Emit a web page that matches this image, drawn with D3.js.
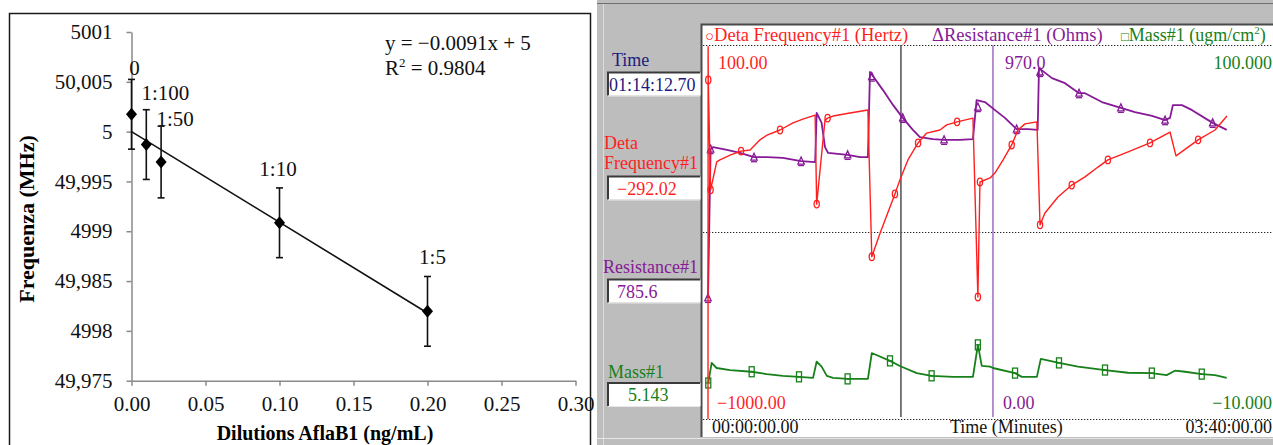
<!DOCTYPE html>
<html>
<head>
<meta charset="utf-8">
<script src="https://cdn.jsdelivr.net/npm/d3@7"></script>
<style>
  html, body { margin: 0; padding: 0; background: #fff; }
  svg { display: block; font-family: "Liberation Serif", "Times New Roman", serif; }
</style>
</head>
<body>
<svg id="chart" width="1273" height="445"></svg>
<script>
// ============================================================
//  Left: frequency vs AflaB1 dilution  |  Right: QCM monitor trace
// ============================================================

// --- Left panel data ---
const dilutionLabels = ['0', '1:100', '1:50', '1:10', '1:5'];
const concentrations = [0, 0.01, 0.02, 0.10, 0.20];
const frequencyMHz   = [5000.174, 4999.87, 4999.695, 4999.085, 4998.196];
const frequencyErr   = [0.35, 0.35, 0.36, 0.35, 0.35];
const yTickValues = [4997.5, 4998, 4998.5, 4999, 4999.5, 5000, 5000.5, 5001];
const yTickLabels = ['49,975', '4998', '49,985', '4999', '49,995', '5', '50,005', '5001'];
const xTickValues = [0, 0.05, 0.10, 0.15, 0.20, 0.25, 0.30];
const fitSlope = -9.1;         // MHz per ng/mL  (y = -0.0091x + 5 in GHz)
const fitIntercept = 5000;
const fitRange = [0, 0.20];

// --- Right panel data: [minutes, value] ---
const freqTrace = [
  [0,-1000],[0.05,95],[0.1,-3],[1.0,-326],[3.35,-244],[4.6,-238],[8.5,-224],[12.7,-212],
  [16.2,-209],[20,-179],[22.7,-165],[27.7,-150],[32.7,-129],[36.5,-118],[41.2,-106],
  [41.8,-368],[45,-121],[46,-115],[48.1,-109],[54.6,-100],[61.5,-91],[63,-523],[66.2,-453],
  [71.9,-338],[73.8,-297],[76.9,-238],[80.8,-188],[84.1,-159],[89.2,-150],[91.8,-135],
  [95.8,-126],[101.9,-115],[103.8,-641],[104.6,-303],[108.5,-291],[110.4,-276],[113.5,-238],
  [116.8,-194],[119.2,-150],[121.9,-132],[126.5,-126],[127.7,-429],[129.6,-394],[134.6,-347],
  [139.9,-312],[145,-288],[150,-259],[153.8,-238],[160.4,-218],[170,-188],[177.7,-156],
  [180,-226],[188.5,-179],[195,-150],[199.6,-109]
];
const freqMarkers = [
  [0.1,-3],[1.0,-326],[12.7,-212],[27.7,-150],[41.8,-368],[46,-115],[63,-523],[71.9,-338],
  [80.8,-188],[95.8,-126],[103.8,-641],[104.6,-303],[116.8,-194],[127.7,-429],[139.9,-312],
  [153.8,-238],[170,-188],[188.5,-179]
];
const resTrace = [
  [0,314],[1.0,700],[1.9,705],[7.3,698],[12.3,690],[17.7,679],[22.7,679],[28.8,677],
  [35.8,669],[41.2,666],[41.8,794],[43.7,768],[45,705],[46.2,690],[53.7,685],[58.5,679],
  [61.5,679],[62.3,900],[67.3,853],[71.2,814],[74.9,781],[78.8,750],[81.5,731],[86.5,726],
  [90.8,724],[96.9,724],[101.9,726],[103.3,827],[106.5,822],[110.4,801],[114.2,781],
  [118.7,752],[123.1,752],[126.8,750],[127.3,910],[132.3,884],[137.3,871],[142.7,845],
  [145,845],[151.5,822],[158.8,807],[164.2,796],[170.8,786],[175.8,775],[177.7,781],
  [178.8,814],[182.3,814],[186.2,801],[194.1,768],[199.5,750]
];
const resMarkers = [
  [0,314],[1.0,700],[17.7,679],[35.8,669],[53.7,685],[63,888],[74.9,781],[90.8,724],
  [103.8,809],[118.7,752],[127.7,900],[142.7,845],[158.8,807],[175.8,775],[194.1,768]
];
const massTrace = [
  [0.1,0.6],[1.4,6.5],[3.3,5.0],[8.5,4.4],[16.8,3.9],[22.6,3.2],[28.8,2.7],[35,2.4],
  [40.4,2.1],[41.8,6.9],[43.7,5.4],[45.7,2.7],[48.1,2.1],[53.7,1.8],[61.5,1.8],[63,9.4],
  [70,7.1],[73.8,5.6],[80.3,3.5],[86,2.7],[94.2,2.4],[101.9,2.4],[103.8,11.8],[105.3,5.6],
  [108.5,5.4],[109.6,5.0],[118.1,3.5],[120.7,2.4],[126.5,2.4],[128,7.7],[135,6.5],
  [142.3,5.4],[152.7,4.4],[161.5,3.6],[170.7,3.5],[176.4,2.9],[179.6,4.2],[183.5,3.9],
  [189.9,3.2],[195,2.9],[199.5,2.1]
];
const massMarkers = [
  [0.1,0.6],[16.8,3.9],[35,2.4],[53.7,1.8],[70,7.1],[86,2.7],[103.8,11.8],[118.1,3.5],
  [135,6.5],[152.7,4.4],[170.7,3.5],[189.9,3.2]
];
const cursorTimes = [74.2, 109.6];
const timeDomain = [0, 220];
const freqDomain = [-1000, 100];
const resDomain = [0, 970];
const massDomain = [-10, 100];
const readoutNames = ['Time', 'Deta|Frequency#1', 'Resistance#1', 'Mass#1'];
const readoutValues = ['01:14:12.70', '\u2212292.02', '785.6', '5.143'];

// --- Colours ---
const RED = '#ff1f1f', PURPLE = '#861a96', GREEN = '#17801a', NAVY = '#1b1b7e';

const svg = d3.select('#chart');

// ================= Left panel =================
(() => {
  const g = svg.append('g');
  g.append('rect').attr('x', 9.5).attr('y', 13.5).attr('width', 581).attr('height', 450)
    .attr('fill', '#fff').attr('stroke', '#1a1a1a').attr('stroke-width', 1.5);

  const x = d3.scaleLinear().domain([0, 0.30]).range([131.5, 575.5]);
  const y = d3.scaleLinear().domain([4997.5, 5001]).range([380.7, 32]);

  const yAxis = g.append('g').attr('transform', `translate(${x(0)},0)`)
    .call(d3.axisLeft(y).tickValues(yTickValues).tickSize(5).tickSizeOuter(0).tickPadding(14)
      .tickFormat((d, i) => yTickLabels[i]));
  const xAxis = g.append('g').attr('transform', `translate(0,${y(4997.5)})`)
    .call(d3.axisBottom(x).tickValues(xTickValues).tickSize(5).tickSizeOuter(0).tickPadding(10)
      .tickFormat(d3.format('.2f')));
  [yAxis, xAxis].forEach(a => {
    a.selectAll('path, line').attr('stroke', '#8a8a8a').attr('stroke-width', 1.5);
    a.selectAll('text').attr('fill', '#111').style('font-size', '21px')
      .style('font-family', '"Liberation Serif", serif');
  });

  // regression line
  g.append('line')
    .attr('x1', x(fitRange[0])).attr('y1', y(fitIntercept + fitSlope * fitRange[0]))
    .attr('x2', x(fitRange[1])).attr('y2', y(fitIntercept + fitSlope * fitRange[1]))
    .attr('stroke', '#111').attr('stroke-width', 1.6);

  const pts = concentrations.map((c, i) => ({ c, f: frequencyMHz[i], e: frequencyErr[i], lab: dilutionLabels[i] }));

  // error bars
  const eb = g.append('g').attr('stroke', '#111').attr('stroke-width', 1.6);
  pts.forEach(p => {
    eb.append('line').attr('x1', x(p.c)).attr('x2', x(p.c)).attr('y1', y(p.f - p.e)).attr('y2', y(p.f + p.e));
    [p.f - p.e, p.f + p.e].forEach(v =>
      eb.append('line').attr('x1', x(p.c) - 3.5).attr('x2', x(p.c) + 3.5).attr('y1', y(v)).attr('y2', y(v)));
  });

  // diamonds
  g.selectAll('path.pt').data(pts).join('path').attr('class', 'pt')
    .attr('d', 'M0,-6.5L5.5,0L0,6.5L-5.5,0Z')
    .attr('transform', d => `translate(${x(d.c)},${y(d.f)})`)
    .attr('fill', '#000');

  // point labels (nudged above the error bar tops)
  const nudges = [[3, -11], [19, -17], [14, -7], [-1.5, -19], [5, -19]];
  g.selectAll('text.pl').data(pts).join('text').attr('class', 'pl')
    .attr('x', (d, i) => x(d.c) + nudges[i][0])
    .attr('y', (d, i) => y(d.f + d.e) + nudges[i][1] + 7)
    .attr('text-anchor', 'middle').style('font-size', '21px').attr('fill', '#111')
    .text(d => d.lab);

  // equation
  g.append('text').attr('x', 385).attr('y', 50).style('font-size', '21px').attr('fill', '#111')
    .text('y = \u22120.0091x + 5');
  const r2 = g.append('text').attr('x', 385).attr('y', 75).style('font-size', '21px').attr('fill', '#111');
  r2.append('tspan').text('R');
  r2.append('tspan').attr('dy', -8).style('font-size', '13px').text('2');
  r2.append('tspan').attr('dy', 8).text(' = 0.9804');

  // axis titles
  g.append('text').attr('transform', 'translate(34,219) rotate(-90)')
    .attr('text-anchor', 'middle').style('font-size', '22px').style('font-weight', 'bold')
    .text('Frequenza (MHz)');
  g.append('text').attr('x', 325).attr('y', 440)
    .attr('text-anchor', 'middle').style('font-size', '20px').style('font-weight', 'bold')
    .text('Dilutions AflaB1 (ng/mL)');
})();

// ================= Right panel =================
(() => {
  const g = svg.append('g');
  g.append('rect').attr('x', 597).attr('y', 0).attr('width', 676).attr('height', 445).attr('fill', '#bdbdbd');
  g.append('line').attr('x1', 597).attr('x2', 1273).attr('y1', 3.5).attr('y2', 3.5).attr('stroke', '#6e6e6e');
  g.append('line').attr('x1', 603.5).attr('x2', 603.5).attr('y1', 4).attr('y2', 445).attr('stroke', '#dcdcdc');
  g.append('line').attr('x1', 597).attr('x2', 1273).attr('y1', 438.5).attr('y2', 438.5).attr('stroke', '#e6e6e6');

  // plot frame
  g.append('rect').attr('x', 701).attr('y', 24).attr('width', 580).attr('height', 413).attr('fill', '#fff');
  g.append('path').attr('d', 'M701.5,437V24.5H1273').attr('fill', 'none').attr('stroke', '#4a4a4a').attr('stroke-width', 2);

  const x = d3.scaleLinear().domain(timeDomain).range([708, 1280]);
  const top = 45, bottom = 419;
  const yF = d3.scaleLinear().domain(freqDomain).range([bottom, top]);
  const yR = d3.scaleLinear().domain(resDomain).range([bottom, top]);
  const yM = d3.scaleLinear().domain(massDomain).range([bottom, top]);

  // dotted grid lines
  [top, (top + bottom) / 2, bottom].forEach(v =>
    g.append('line').attr('x1', 703).attr('x2', 1273).attr('y1', v + 0.5).attr('y2', v + 0.5)
      .attr('stroke', '#222').attr('stroke-width', 1.2).attr('stroke-dasharray', '1.3,1.7'));

  // cursors
  g.append('line').attr('x1', x(cursorTimes[0])).attr('x2', x(cursorTimes[0]))
    .attr('y1', top).attr('y2', bottom - 2).attr('stroke', '#5a5a5a').attr('stroke-width', 1.6);
  g.append('line').attr('x1', x(cursorTimes[1])).attr('x2', x(cursorTimes[1]))
    .attr('y1', top).attr('y2', bottom - 2).attr('stroke', '#a678c8').attr('stroke-width', 1.6);

  g.append('clipPath').attr('id', 'plotClip').append('rect')
    .attr('x', 703).attr('y', top - 1).attr('width', 575).attr('height', bottom - top + 2);
  const plot = g.append('g').attr('clip-path', 'url(#plotClip)');

  const series = [
    { data: massTrace, marks: massMarkers, y: yM, color: GREEN, w: 1.8, shape: 'square' },
    { data: resTrace, marks: resMarkers, y: yR, color: PURPLE, w: 1.8, shape: 'triangle' },
    { data: freqTrace, marks: freqMarkers, y: yF, color: RED, w: 1.4, shape: 'circle' }
  ];
  series.forEach(s => {
    const line = d3.line().x(d => x(d[0])).y(d => s.y(d[1]));
    plot.append('path').datum(s.data).attr('d', line)
      .attr('fill', 'none').attr('stroke', s.color).attr('stroke-width', s.w).attr('stroke-linejoin', 'round');
    const mg = plot.append('g').attr('fill', 'none').attr('stroke', s.color).attr('stroke-width', 1.3);
    s.marks.forEach(m => {
      const cx = x(m[0]), cy = s.y(m[1]);
      if (s.shape === 'circle') {
        mg.append('ellipse').attr('cx', cx).attr('cy', cy).attr('rx', 2.6).attr('ry', 3.8);
      } else if (s.shape === 'triangle') {
        mg.append('path').attr('d', `M${cx},${cy - 4}L${cx + 3.2},${cy + 3}L${cx - 3.2},${cy + 3}Z`);
        mg.append('line').attr('x1', cx - 3).attr('x2', cx + 3).attr('y1', cy + 4.5).attr('y2', cy + 4.5);
      } else {
        mg.append('rect').attr('x', cx - 2.5).attr('y', cy - 5).attr('width', 5).attr('height', 10);
        mg.append('line').attr('x1', cx - 2.5).attr('x2', cx + 2.5).attr('y1', cy).attr('y2', cy);
      }
    });
  });

  const txt = (xp, yp, s, color, anchor, size) => g.append('text').attr('x', xp).attr('y', yp)
    .attr('fill', color).attr('text-anchor', anchor || 'start').style('font-size', (size || 18) + 'px').text(s);

  // legend row
  const l1 = txt(705, 41, '', RED, 'start', 18.5);
  l1.append('tspan').style('font-size', '15px').text('\u25CB');
  l1.append('tspan').text('Deta Frequency#1 (Hertz)');
  txt(932, 41, '\u0394Resistance#1 (Ohms)', PURPLE, 'start', 18.5);
  const l3 = txt(1121, 41, '', GREEN, 'start', 18);
  l3.append('tspan').style('font-size', '13px').text('\u25A1');
  l3.append('tspan').text('Mass#1 (ugm/cm');
  l3.append('tspan').attr('dy', -7).style('font-size', '11px').text('2');
  l3.append('tspan').attr('dy', 7).text(')');

  // scale limits
  txt(718, 69, d3.format('.2f')(freqDomain[1]), RED);
  txt(1005, 69, d3.format('.1f')(resDomain[1]), PURPLE);
  txt(1272, 69, d3.format('.3f')(massDomain[1]), GREEN, 'end');
  txt(717, 409, '\u22121000.00', RED);
  txt(1003, 409, d3.format('.2f')(resDomain[0]), PURPLE);
  txt(1272, 409, '\u221210.000', GREEN, 'end');
  txt(712, 433, '00:00:00.00', '#111');
  txt(950, 433, 'Time (Minutes)', '#111');
  txt(1272, 433, '03:40:00.00', '#111', 'end');

  // readout panel
  const labelColors = [NAVY, RED, PURPLE, GREEN];
  const labelPos = [[612, 66], [604, 149], [603, 273], [608, 378]];
  const boxTop = [72.5, 176.5, 279.5, 383];
  const valueX = [609, 617, 617, 628];
  readoutNames.forEach((name, i) => {
    name.split('|').forEach((part, j) => txt(labelPos[i][0], labelPos[i][1] + j * 20, part, labelColors[i]));
    const by = boxTop[i];
    g.append('rect').attr('x', 607.5).attr('y', by).attr('width', 93).attr('height', 23).attr('fill', '#fff');
    g.append('path').attr('d', `M608,${by + 23}V${by}H700`).attr('fill', 'none').attr('stroke', '#3a3a3a').attr('stroke-width', 2);
    g.append('path').attr('d', `M608,${by + 23.5}H700`).attr('stroke', '#e8e8e8').attr('stroke-width', 1);
    txt(valueX[i], by + 18, readoutValues[i], labelColors[i]);
  });
})();
</script>
</body>
</html>
